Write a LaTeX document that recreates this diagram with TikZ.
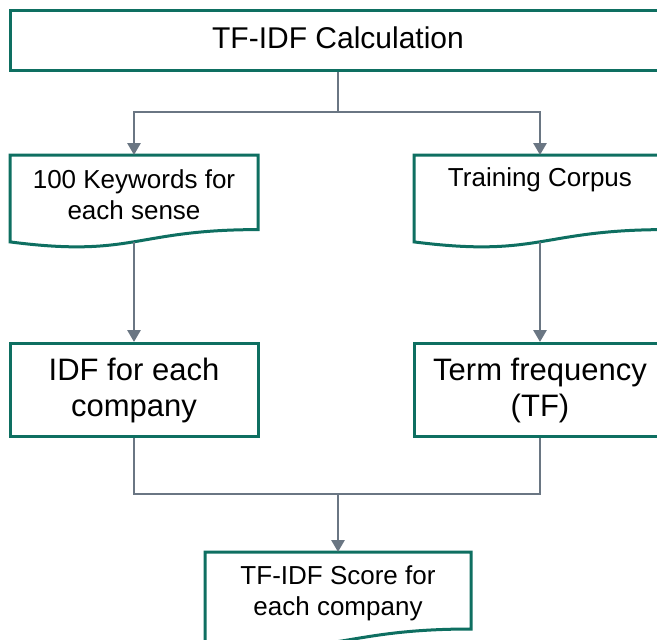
\documentclass[tikz,border=0pt]{standalone}
\usepackage{fontspec}
\setmainfont{Liberation Sans}
\usetikzlibrary{arrows.meta,calc}
\definecolor{boxc}{RGB}{14,111,97}
\definecolor{linec}{RGB}{106,118,131}
\begin{document}
\begin{tikzpicture}[x=1pt,y=-1pt,
  box/.style={draw=boxc, line width=3pt, fill=white, inner sep=0pt, align=center},
  docshape/.style={draw=none, inner sep=0pt, outer sep=0pt},
  docborder/.style={draw=boxc, line width=3pt, fill=white, line join=miter},
  doctext/.style={font=\fontsize{26}{31}\selectfont, align=center, inner sep=0pt},
  conn/.style={draw=linec, line width=2.8pt},
  arr/.style={conn, -{Triangle[width=13pt,length=12pt]}}]
\clip (0,0) rectangle (657,640);
\fill[white] (0,0) rectangle (657,640);

% top box
\node[box, minimum width=655pt, minimum height=60pt, text depth=5pt, font=\fontsize{30}{36}\selectfont] (top) at (338,40.5) {TF-IDF Calculation};

% left document
\node[docshape, anchor=north, minimum width=248pt, minimum height=87pt] (kw) at (134,155) {};
\path[docborder] (kw.north west) -- (kw.north east) -- ($(kw.north east)+(0,74.6)$)
  .. controls +(-124,0) and +(124,16.1) .. ($(kw.north west)+(0,86.9)$) -- cycle;
\node[doctext, anchor=north] (kwt) at ($(kw.north)+(0,14)$) {100 Keywords for\\each sense};

% right document
\node[docshape, anchor=north, minimum width=252pt, minimum height=87pt] (tc) at (540,155) {};
\path[docborder] (tc.north west) -- (tc.north east) -- ($(tc.north east)+(0,74.6)$)
  .. controls +(-126,0) and +(126,16.1) .. ($(tc.north west)+(0,86.9)$) -- cycle;
\node[doctext, anchor=north] (tct) at ($(tc.north)+(0,12.5)$) {Training Corpus};

% middle boxes
\node[box, minimum width=248pt, minimum height=93pt, font=\fontsize{31}{36}\selectfont] (idf) at (134,390) {IDF for each\\company};
\node[box, minimum width=252pt, minimum height=93pt, font=\fontsize{31}{36}\selectfont] (tf) at (540,390) {Term frequency\\(TF)};

% bottom document
\node[docshape, anchor=north, minimum width=266pt, minimum height=89.7pt] (sc) at (338,552) {};
\path[docborder] (sc.north west) -- (sc.north east) -- ($(sc.north east)+(0,77)$)
  .. controls +(-133,0) and +(133,16.6) .. ($(sc.north west)+(0,89.7)$) -- cycle;
\node[doctext, anchor=north] (sct) at ($(sc.north)+(0,13)$) {TF-IDF Score for\\each company};

% connectors
\coordinate (j1) at (338,112);
\coordinate (j2) at (338,494);
\draw[conn] (top.south) -- (j1);
\draw[arr] (j1) -| (kw.north);
\draw[arr] (j1) -| (tc.north);
\draw[arr] (kw.south) -- (idf.north);
\draw[arr] (tc.south) -- (tf.north);
\draw[conn] (idf.south) |- (j2) -| (tf.south);
\draw[arr] (j2) -- (sc.north);
\end{tikzpicture}
\end{document}
